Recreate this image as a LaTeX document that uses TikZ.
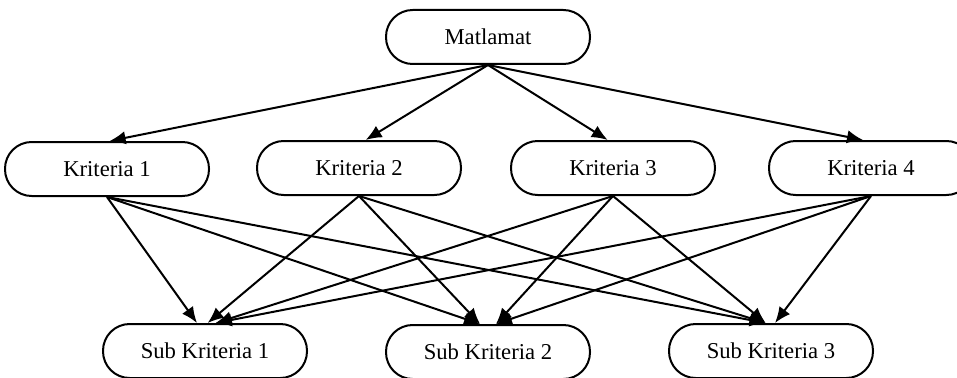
\documentclass[tikz,border=0pt]{standalone}
\usepackage{fontspec}
\setmainfont{Liberation Serif}
\usetikzlibrary{arrows.meta}

\begin{document}
\begin{tikzpicture}[x=0.75pt, y=-0.75pt]
  \tikzstyle{box}=[draw, line width=1.5pt, rounded corners=20pt, minimum width=153pt,
    minimum height=40.5pt, inner sep=0pt, fill=white, font=\fontsize{17}{20}\selectfont]
  \tikzstyle{link}=[line width=1.5pt, -{Latex[length=12pt, width=10pt]}]

  \useasboundingbox (0,0) rectangle (957,378);
  \clip (0,0) rectangle (957,378);

  \node[box] (goal) at (488, 37)  {Matlamat};
  \node[box] (k1)   at (107, 169) {Kriteria 1};
  \node[box] (k2)   at (359, 168) {Kriteria 2};
  \node[box] (k3)   at (613, 168) {Kriteria 3};
  \node[box] (k4)   at (871, 168) {Kriteria 4};
  \node[box] (s1)   at (205, 351) {Sub Kriteria 1};
  \node[box] (s2)   at (488, 352) {Sub Kriteria 2};
  \node[box] (s3)   at (771, 351) {Sub Kriteria 3};

  \path[link] (goal.south) edge ([xshift=2pt]k1.north);
  \path[link] (goal.south) edge ([xshift=5pt]k2.north);
  \path[link] (goal.south) edge ([xshift=-4pt]k3.north);
  \path[link] (goal.south) edge ([xshift=-6pt]k4.north);

  \path[link] (k1.south) edge ([xshift=-6pt]s1.north);
  \path[link] (k1.south) edge ([xshift=-6pt]s2.north);
  \path[link] (k1.south) edge ([xshift=-4pt]s3.north);
  \path[link] (k2.south) edge ([xshift=2pt]s1.north);
  \path[link] (k2.south) edge ([xshift=-6pt]s2.north);
  \path[link] (k2.south) edge ([xshift=-4pt]s3.north);
  \path[link] (k3.south) edge ([xshift=8pt]s1.north);
  \path[link] (k3.south) edge ([xshift=6pt]s2.north);
  \path[link] (k3.south) edge ([xshift=-4pt]s3.north);
  \path[link] (k4.south) edge ([xshift=8pt]s1.north);
  \path[link] (k4.south) edge ([xshift=6pt]s2.north);
  \path[link] (k4.south) edge ([xshift=3pt]s3.north);
\end{tikzpicture}
\end{document}
